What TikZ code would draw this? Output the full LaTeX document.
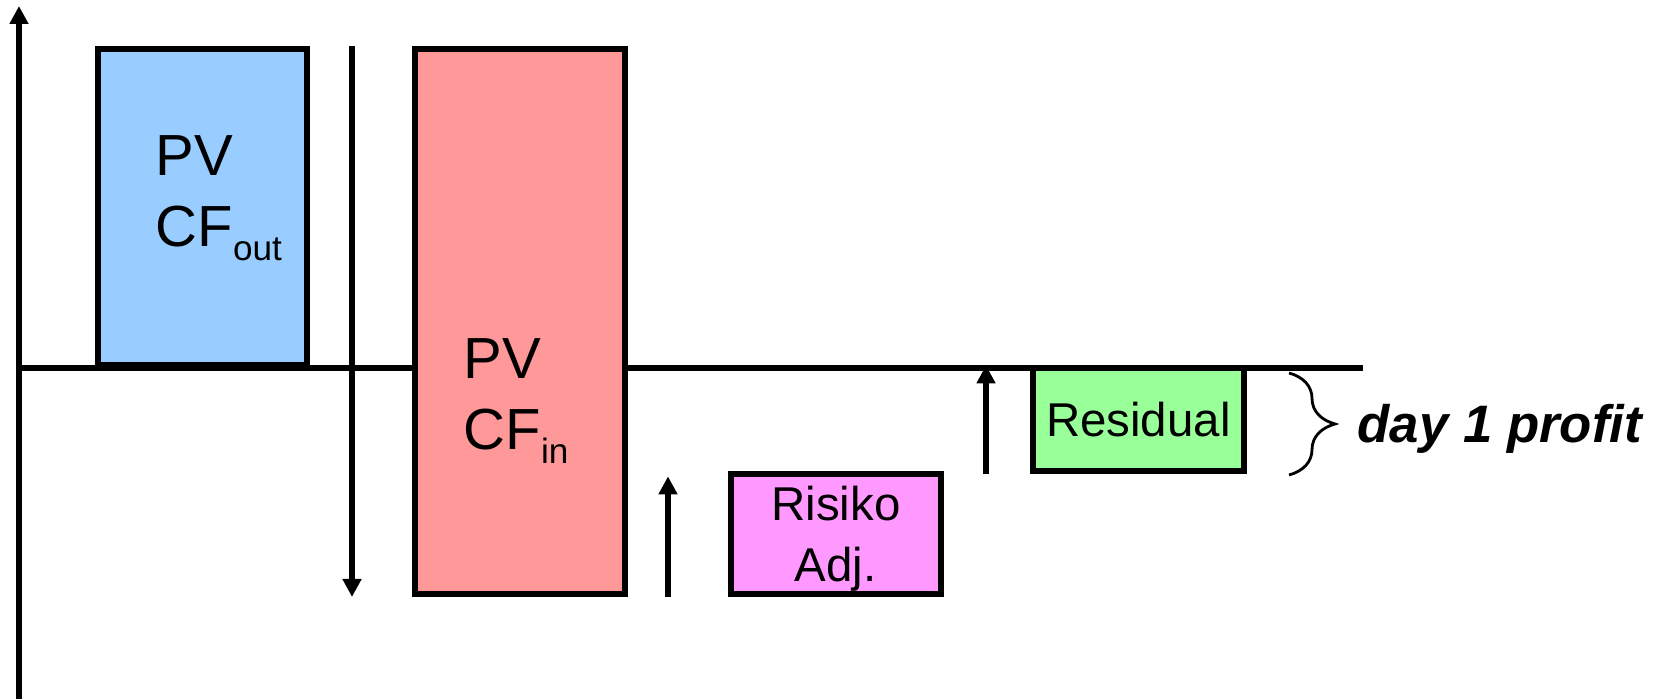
\documentclass[tikz,border=0pt]{standalone}
\usepackage{fontspec}
\setmainfont{Liberation Sans}
\usepackage{xcolor}
\usepackage{tikz}
\usetikzlibrary{arrows.meta, positioning, decorations.pathreplacing}

\newcommand{\cfsub}[1]{\raisebox{-4pt}{\fontsize{10}{12}\selectfont #1}}

\begin{document}
\begin{tikzpicture}[x=1cm,y=1cm,
  bar/.style={draw=black, line width=1.6pt, inner sep=0pt, anchor=south west, align=center,
              font=\fontsize{13.5}{17.2}\selectfont},
  pvtext/.style={inner sep=0pt, anchor=north west, align=left, font=\fontsize{16.5}{20.2}\selectfont},
  flow/.style={-{Triangle[length=1.8mm,width=1.8mm]}, line width=1.5pt},
  bracket/.style={decorate, decoration={brace, amplitude=4.6mm}, line width=0.8pt}]
  % Box colours
  \definecolor{pvblue}{HTML}{99CCFF}
  \definecolor{pvred}{HTML}{FF9999}
  \definecolor{riskpink}{HTML}{FF99FF}
  \definecolor{resgreen}{HTML}{99FF99}

  \useasboundingbox (0,0) rectangle (16.61,6.99);

  % --- AXES ---
  \coordinate (origin) at (0.19,3.31);
  \coordinate (ytop) at (0.19,6.93);
  \coordinate (ybot) at (0.19,0);
  \coordinate (xend) at (13.63,3.31);
  \draw[line width=1.8pt] (origin) -- (xend);
  \draw[-{Triangle[length=1.8mm,width=1.8mm]}, line width=1.6pt] (ybot) -- (ytop);

  % --- PV CF OUT ---
  \node[bar, fill=pvblue, minimum width=2.09cm, minimum height=3.16cm] (cfout) at (0.95,3.31) {};
  \node[pvtext] (cfoutlbl) at (1.55,5.64) {PV\\CF\cfsub{out}};

  % --- PV CF IN ---
  \node[bar, fill=pvred, minimum width=2.10cm, minimum height=5.45cm] (cfin) at (4.12,1.02) {};
  \node[pvtext] (cfinlbl) at (4.63,3.61) {PV\\CF\cfsub{in}};

  % --- RISIKO ADJ. ---
  \node[bar, fill=riskpink, minimum width=2.10cm, minimum height=1.20cm] (risk) at (7.28,1.02) {Risiko\\Ad\smash{j}.};

  % --- RESIDUAL ---
  \node[bar, fill=resgreen, minimum width=2.11cm, minimum height=1.03cm] (resid) at (10.30,2.25) {Residual};

  % Vertical arrows between stages
  \coordinate (down) at (3.52,0);
  \coordinate (up1) at (6.68,0);
  \coordinate (up2) at (9.86,0);
  \draw[flow] (down |- cfin.north) -- (down |- cfin.south);
  \draw[flow] (up1 |- risk.south) -- ([yshift=-0.05cm]up1 |- risk.north);
  \draw[flow] (up2 |- resid.south) -- (up2 |- resid.north);

  % Brace and profit label
  \coordinate (brtop) at (12.89,3.26);
  \coordinate (brbot) at (12.89,2.24);
  \draw[bracket] (brtop) -- (brbot);
  \node[font=\fontsize{15}{18}\selectfont\bfseries\itshape, inner sep=0pt, anchor=base west] (profit) at (13.57,2.56) {day 1 profit};
\end{tikzpicture}
\end{document}
